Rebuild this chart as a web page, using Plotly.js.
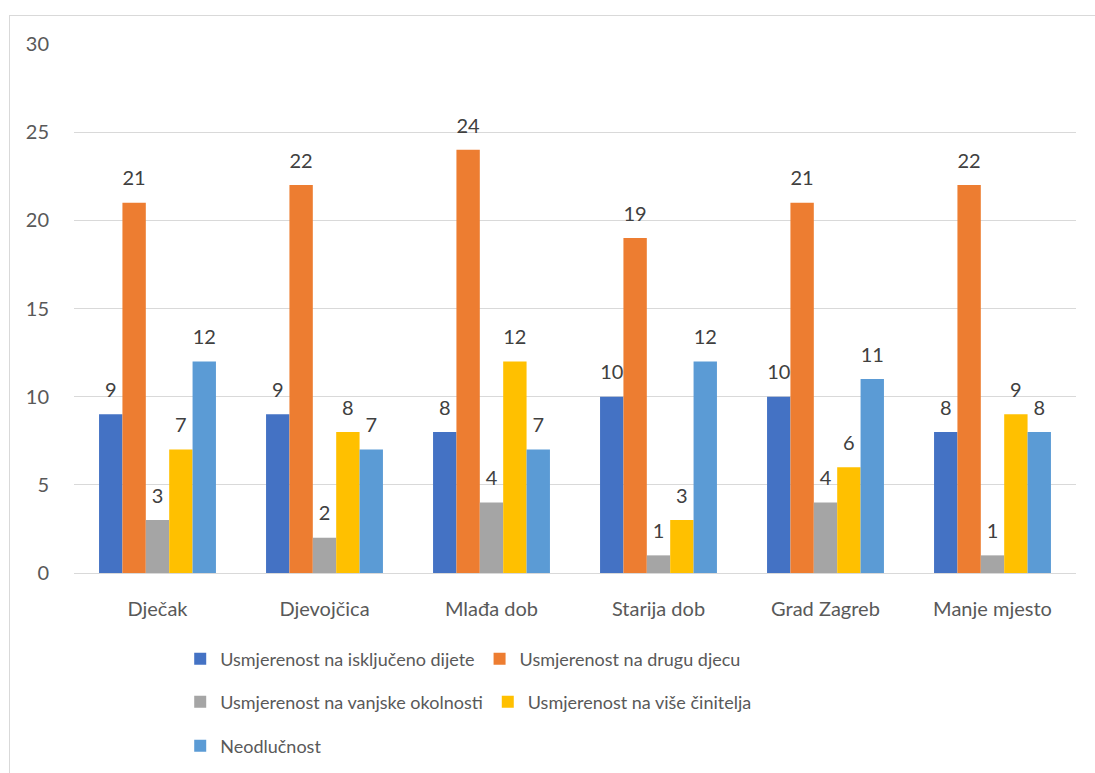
<!DOCTYPE html>
<html>
<head>
<meta charset="utf-8">
<script src="https://cdn.plot.ly/plotly-3.0.1.min.js"></script>
<style>
html,body{margin:0;padding:0;background:#fff;}
#wrap{position:relative;width:1095px;height:773px;}
#chart{width:1095px;height:773px;}
#frame{position:absolute;left:9px;top:15px;right:-5px;bottom:-5px;border-left:1px solid #d9d9d9;border-top:1px solid #d9d9d9;pointer-events:none;}
</style>
</head>
<body>
<div id="wrap"><div id="chart"></div><div id="frame"></div></div>
<script>
const categories = ["Dječak", "Djevojčica", "Mlađa dob", "Starija dob", "Grad Zagreb", "Manje mjesto"];
const seriesNames = [
  "Usmjerenost na isključeno dijete",
  "Usmjerenost na drugu djecu",
  "Usmjerenost na vanjske okolnosti",
  "Usmjerenost na više činitelja",
  "Neodlučnost"
];
const iskljucenoDijete = [9, 9, 8, 10, 10, 8];
const drugaDjeca = [21, 22, 24, 19, 21, 22];
const vanjskeOkolnosti = [3, 2, 4, 1, 4, 1];
const viseCinitelja = [7, 8, 12, 3, 6, 9];
const neodlucnost = [12, 7, 7, 12, 11, 8];
const yTicks = [0, 5, 10, 15, 20, 25, 30];

const seriesValues = [iskljucenoDijete, drugaDjeca, vanjskeOkolnosti, viseCinitelja, neodlucnost];
const colors = ["#4472C4", "#ED7D31", "#A5A5A5", "#FFC000", "#5B9BD5"];
const legendIds = ["legend", "legend", "legend2", "legend2", "legend3"];
const FONT = "Lato, 'Liberation Sans', sans-serif";

const traces = [];
seriesValues.forEach((vals, i) => {
  traces.push({
    type: "bar",
    name: seriesNames[i],
    x: categories,
    y: vals,
    marker: {color: colors[i]},
    legend: legendIds[i],
    hoverinfo: "x+y+name"
  });
});
seriesValues.forEach((vals, i) => {
  traces.push({
    type: "scatter",
    mode: "markers+text",
    x: categories,
    y: vals,
    text: vals.map(String),
    textposition: "top center",
    textfont: {family: FONT, size: 20, color: "#404040"},
    marker: {size: 18, opacity: 0, color: colors[i]},
    showlegend: false,
    hoverinfo: "skip",
    cliponaxis: false
  });
});

const legendBase = {
  orientation: "h",
  xanchor: "left",
  yanchor: "middle",
  x: 0.106,
  font: {family: FONT, size: 18, color: "#595959"},
  bgcolor: "rgba(0,0,0,0)",
  itemclick: false,
  itemdoubleclick: false
};

const layout = {
  width: 1095,
  height: 773,
  margin: {l: 74, r: 19, t: 44, b: 200, autoexpand: false},
  paper_bgcolor: "#ffffff",
  plot_bgcolor: "#ffffff",
  barmode: "group",
  bargap: 0.3,
  bargroupgap: 0,
  scattermode: "group",
  scattergap: 0.3,
  font: {family: FONT, color: "#595959"},
  showlegend: true,
  xaxis: {
    type: "category",
    showgrid: false,
    showline: true,
    linecolor: "#d9d9d9",
    linewidth: 1,
    ticks: "",
    tickfont: {family: FONT, size: 20, color: "#595959"},
    ticklabelstandoff: 18,
    fixedrange: true
  },
  yaxis: {
    range: [0, 30],
    tickvals: yTicks,
    ticktext: yTicks.map(String),
    showgrid: true,
    gridcolor: "#d9d9d9",
    gridwidth: 1,
    zeroline: false,
    showline: false,
    ticks: "",
    tickfont: {family: FONT, size: 20, color: "#595959"},
    ticklabelstandoff: 24,
    fixedrange: true
  },
  legend: Object.assign({}, legendBase, {y: -0.1626}),
  legend2: Object.assign({}, legendBase, {y: -0.2439}),
  legend3: Object.assign({}, legendBase, {y: -0.327})
};

Plotly.newPlot("chart", traces, layout, {displayModeBar: false});
</script>
</body>
</html>
